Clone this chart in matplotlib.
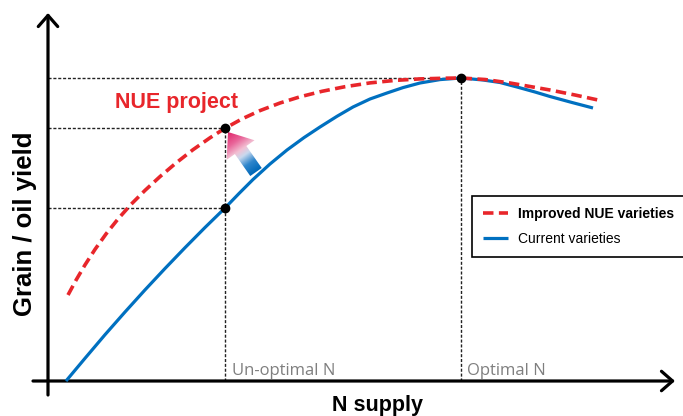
import numpy as np
import matplotlib
matplotlib.use("Agg")
import matplotlib.pyplot as plt
from matplotlib.patches import FancyArrow, FancyArrowPatch
from matplotlib.colors import LinearSegmentedColormap

# Data (N supply vs. yield, arbitrary units)
current_n = [18, 37, 57, 77, 97, 117, 137, 157, 177, 191, 205, 222, 239, 256,
             272, 289, 305, 322, 339, 355, 372, 392, 413, 435, 452, 469, 487,
             502, 524, 545]
current_yield = [0, 22.7, 46.3, 69, 91.1, 112.5, 133.3, 153.5, 173, 187.5,
                 201.5, 217, 231, 243.4, 254, 264.7, 274, 282, 288, 293.4, 298,
                 301.4, 303, 301, 298.5, 294, 289, 284.5, 278.5, 273]

improved_n = [20, 28, 37, 47, 58, 70, 83, 97, 112, 128, 145, 162, 177, 194,
              212, 232, 252, 274, 297, 322, 347, 372, 397, 413, 437, 462, 482,
              502, 527, 550]
improved_yield = [86, 100.8, 116.1, 131.6, 147, 162, 176.6, 190.6, 204.4, 218,
                  231.3, 243.2, 252.7, 262.1, 270.4, 278, 284.2, 289.7, 294.3,
                  298.1, 300.6, 302.1, 302.8, 303, 301.5, 298, 294.5, 291, 286,
                  281]

unoptimal_n = 177
optimal_n = 413
point_n = [unoptimal_n, unoptimal_n, optimal_n]
point_yield = [173, 253, 303]

blue = '#0070c0'
red = '#e8262b'
grey = '#7f7f7f'

fig = plt.figure(figsize=(6.83, 4.16), dpi=100)
ax = fig.add_axes([0, 0, 1, 1])
ax.set_xlim(-48, 635)
ax.set_ylim(-35, 381)
ax.axis('off')

# dotted guide lines
guide = dict(color='#222222', lw=1.0, linestyle=(0, (2.2, 1.3)), zorder=1)
for n, y in zip(point_n, point_yield):
    ax.plot([0, n], [y, y], **guide)
ax.plot([unoptimal_n, unoptimal_n], [0, max(point_yield[:2])], **guide)
ax.plot([optimal_n, optimal_n], [0, point_yield[2]], **guide)

# curves
ax.plot(improved_n, improved_yield, color=red, lw=2.6,
        linestyle=(0, (2.9, 1.5)), label='Improved NUE varieties', zorder=3)
ax.plot(current_n, current_yield, color=blue, lw=2.3,
        solid_capstyle='butt', label='Current varieties', zorder=2)
ax.plot(point_n, point_yield, 'o', color='black', ms=6, zorder=4)

# axes with open arrow heads
ax_style = '->,head_length=0.4,head_width=0.35'
ax.add_patch(FancyArrowPatch((0, -14), (0, 368), arrowstyle=ax_style,
                             mutation_scale=20, lw=2.3, color='black',
                             shrinkA=0, shrinkB=0))
ax.add_patch(FancyArrowPatch((-15, 0), (627, 0), arrowstyle=ax_style,
                             mutation_scale=20, lw=2.3, color='black',
                             shrinkA=0, shrinkB=0))

# gradient arrow from current to improved
tail = np.array([208.0, 209.0])
tip = np.array([180.0, 249.0])
d = tip - tail
arrow = FancyArrow(tail[0], tail[1], d[0], d[1], width=14, head_width=34,
                   head_length=22, length_includes_head=True,
                   facecolor='none', edgecolor='none')
ax.add_patch(arrow)
cmap = LinearSegmentedColormap.from_list(
    'nue', [(0, '#0068b8'), (0.22, '#2f86cc'), (0.42, '#c9d9ee'),
            (0.55, '#f2c0d3'), (0.75, '#e9669a'), (1, '#e0256a')])
x0, x1 = tip[0] - 25, tail[0] + 25
y0, y1 = tail[1] - 10, tip[1] + 10
gx, gy = np.meshgrid(np.linspace(x0, x1, 150), np.linspace(y0, y1, 150))
t = ((gx - tail[0]) * d[0] + (gy - tail[1]) * d[1]) / (d @ d)
im = ax.imshow(np.clip(t, 0, 1), cmap=cmap, extent=(x0, x1, y0, y1),
               origin='lower', aspect='auto', zorder=3)
im.set_clip_path(arrow)

# text
ax.text(67, 273, 'NUE project', color=red, fontsize=15.5,
        fontweight='bold', family='Liberation Sans')
ax.text(184, 6, 'Un-optimal N', color=grey, fontsize=12, family='Open Sans')
ax.text(419, 6, 'Optimal N', color=grey, fontsize=12, family='Open Sans')
ax.text(329, -30, 'N supply', fontsize=15.5, fontweight='bold',
        family='Liberation Sans', ha='center', va='baseline')
ax.text(-23, 157, 'Grain / oil yield', fontsize=18.5, fontweight='bold',
        family='Liberation Sans', rotation=90, ha='center', va='center')

leg = ax.legend(loc='upper left', bbox_to_anchor=(424, 185),
                bbox_transform=ax.transData, borderaxespad=0,
                fancybox=False, framealpha=1, edgecolor='black',
                prop={'family': 'Liberation Sans', 'size': 10},
                handlelength=1.8, handletextpad=0.72, borderpad=0.8,
                labelspacing=0.78)
leg.get_frame().set_linewidth(1.2)
leg.get_texts()[0].set_fontweight('bold')

fig.savefig('out.png', dpi=100)
